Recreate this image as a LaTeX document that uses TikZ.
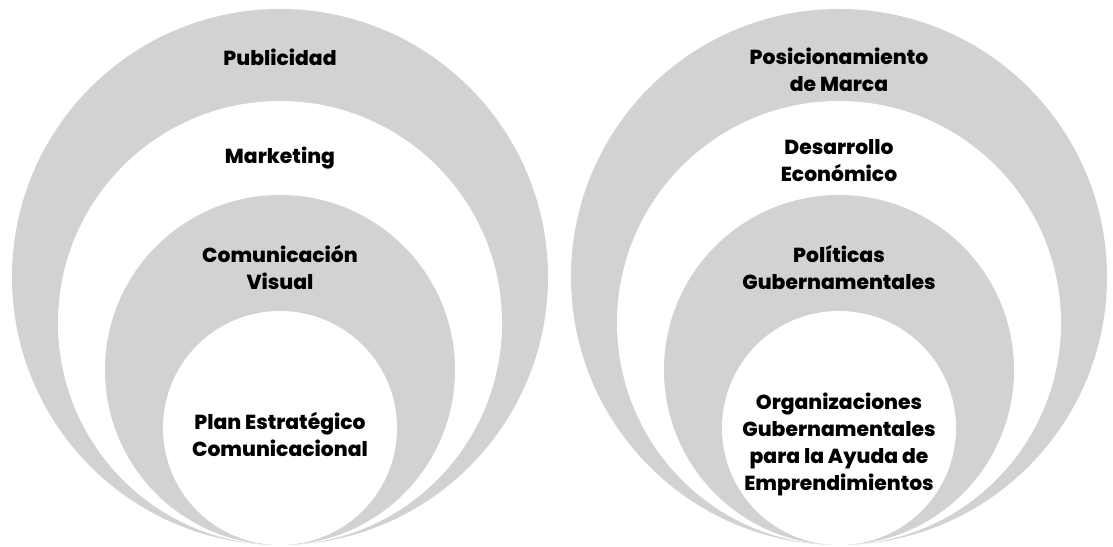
\documentclass[tikz,border=0pt]{standalone}
\usepackage{fontspec}
\setmainfont{Poppins}[BoldFont={Poppins ExtraBold}]
\usepackage{tikz}

\definecolor{ringgray}{RGB}{210,210,210}

\tikzset{
  ringlabel/.style={align=center, font=\bfseries\fontsize{20.3}{27}\selectfont, text=black, inner sep=0pt}
}

\begin{document}
\begin{tikzpicture}[x=1pt,y=1pt]
\useasboundingbox (0,0) rectangle (1113,546);
% left stack of circles, all touching at the bottom
\fill[ringgray] (280,269) circle (268);
\fill[white] (280,223) circle (222);
\fill[ringgray] (280,176) circle (175);
\fill[white] (280,118) circle (117);
\node[ringlabel] (publicidad) at (280,489) {Publicidad};
\node[ringlabel] (marketing) at (280,388) {Marketing};
\node[ringlabel] (comvisual) at (280,279) {Comunicación\\Visual};
\node[ringlabel] (plan) at (280,112) {Plan Estratégico\\Comunicacional};
% right stack
\fill[ringgray] (839,269) circle (268);
\fill[white] (839,223) circle (222);
\fill[ringgray] (839,176) circle (175);
\fill[white] (839,118) circle (117);
\node[ringlabel] (marca) at (839,476) {Posicionamiento\\de Marca};
\node[ringlabel] (desarrollo) at (839,385) {Desarrollo\\Económico};
\node[ringlabel] (politicas) at (839,279) {Políticas\\Gubernamentales};
\node[ringlabel] (organizaciones) at (839,102) {Organizaciones\\Gubernamentales\\para la Ayuda de\\Emprendimientos};
\end{tikzpicture}
\end{document}
